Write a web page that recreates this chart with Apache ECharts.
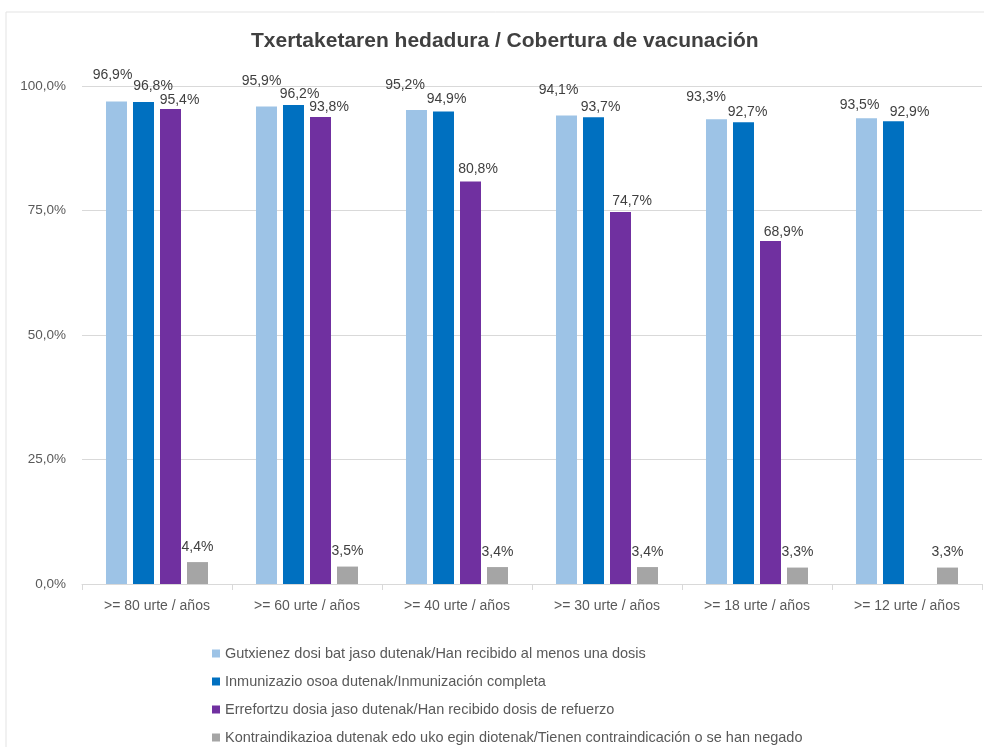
<!DOCTYPE html>
<html><head><meta charset="utf-8">
<script src="https://cdn.jsdelivr.net/npm/echarts@6/dist/echarts.min.js"></script>
<style>html,body{margin:0;padding:0;background:#fff}#c{width:984px;height:747px}</style>
</head><body><div id="c"></div>
<script>
const categories = [">= 80 urte / años", ">= 60 urte / años", ">= 40 urte / años", ">= 30 urte / años", ">= 18 urte / años", ">= 12 urte / años"];
const seriesNames = [
  "Gutxienez dosi bat jaso dutenak/Han recibido al menos una dosis",
  "Inmunizazio osoa dutenak/Inmunización completa",
  "Errefortzu dosia jaso dutenak/Han recibido dosis de refuerzo",
  "Kontraindikazioa dutenak edo uko egin diotenak/Tienen contraindicación o se han negado"
];
const alMenosUna = [96.9, 95.9, 95.2, 94.1, 93.3, 93.5];
const completa = [96.8, 96.2, 94.9, 93.7, 92.7, 92.9];
const refuerzo = [95.4, 93.8, 80.8, 74.7, 68.9, null];
const contraindicacion = [4.4, 3.5, 3.4, 3.4, 3.3, 3.3];
const yTicks = [0, 25, 50, 75, 100];

// label nudges (styling only), [dx, dy] per bar, as placed in the original chart
const labelNudges = [
  [[-4, -16], [-5, -15.5], [-11.5, -15], [-8, -15], [-10.5, -12.5], [-7, -3.5]],
  [[9.5, -6], [6, -1], [3, -2], [7, 0], [4, 0], [16, 0.5]],
  [[9, 1.5], [8.5, 0], [7.5, -2], [11.5, -1], [13, 1], [0, 0]],
  [[0, -5], [0, -5], [0, -5], [0, -5], [0, -5], [0, -5]]
];

const colors = ["#9DC3E6", "#0070C0", "#7030A0", "#A5A5A5"];
const fmt = v => v.toFixed(1).replace('.', ',') + '%';
const font = "Liberation Sans";
const chart = echarts.init(document.getElementById('c'));
const mk = (idx, data) => ({
  name: seriesNames[idx], type: 'bar',
  data: data.map((v, i) => ({ value: v, label: { offset: labelNudges[idx][i] } })),
  barWidth: 21, barGap: '28.6%',
  itemStyle: { color: colors[idx] },
  label: { show: true, position: 'top', distance: 3, color: '#404040', fontSize: 14, fontFamily: font,
    formatter: p => p.value == null ? '' : fmt(p.value) }
});
chart.setOption({
  animation: false,
  graphic: [{ type: 'rect', shape: { x: 6, y: 12, width: 1000, height: 760 }, style: { fill: 'none', stroke: '#e3e3e3', lineWidth: 1 } }],
  title: { text: 'Txertaketaren hedadura / Cobertura de vacunación', left: 246, top: 26,
    textStyle: { fontFamily: font, fontSize: 21, fontWeight: 'bold', color: '#404040' } },
  grid: { left: 82, right: 2, top: 86, bottom: 163, containLabel: false },
  xAxis: { type: 'category', data: categories,
    axisLine: { lineStyle: { color: '#d9d9d9' } },
    axisTick: { show: true, interval: 0, length: 6, lineStyle: { color: '#d9d9d9' } },
    axisLabel: { color: '#595959', fontSize: 14, fontFamily: font, margin: 15, interval: 0 } },
  yAxis: { type: 'value', min: 0, max: 100, interval: 25,
    axisLine: { show: false }, axisTick: { show: false },
    splitLine: { lineStyle: { color: '#d9d9d9' } },
    axisLabel: { color: '#595959', fontSize: 13.5, fontFamily: font, margin: 16, formatter: v => fmt(v) } },
  legend: { orient: 'vertical', left: 212, top: 646, itemGap: 13, itemWidth: 8, itemHeight: 8, padding: 0,
    icon: 'rect', textStyle: { color: '#595959', fontSize: 14.5, lineHeight: 15, fontFamily: font }, data: seriesNames },
  series: [
    mk(0, alMenosUna),
    mk(1, completa),
    mk(2, refuerzo),
    mk(3, contraindicacion)
  ]
});
</script></body></html>
